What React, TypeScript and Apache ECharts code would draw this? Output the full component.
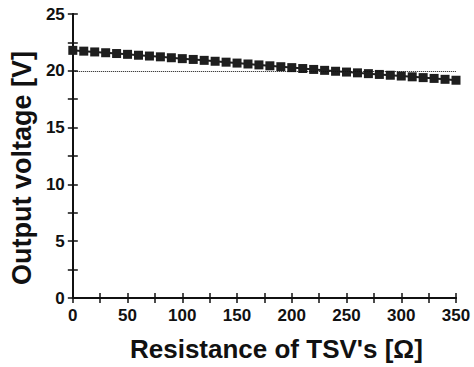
import React, { useEffect, useRef } from "react";
import * as echarts from "echarts";

const resistance = [0, 10, 20, 30, 40, 50, 60, 70, 80, 90, 100, 110, 120, 130, 140, 150, 160, 170, 180, 190, 200, 210, 220, 230, 240, 250, 260, 270, 280, 290, 300, 310, 320, 330, 340, 350];
const voltage = [21.8, 21.73, 21.66, 21.59, 21.52, 21.45, 21.37, 21.3, 21.23, 21.15, 21.07, 21.0, 20.92, 20.84, 20.76, 20.68, 20.6, 20.52, 20.44, 20.36, 20.28, 20.2, 20.12, 20.04, 19.96, 19.89, 19.82, 19.75, 19.68, 19.61, 19.54, 19.47, 19.4, 19.33, 19.25, 19.17];
const refVoltage = 20;

const FONT = "'Liberation Sans', Arial, sans-serif";

export default function App() {
  const ref = useRef<HTMLDivElement>(null);
  useEffect(() => {
    if (!ref.current) return;
    const chart = echarts.init(ref.current, null, { renderer: "svg" });
    const axisLine = { show: true, lineStyle: { color: "#111", width: 2 } };
    const axisTick = { show: true, inside: true, length: 5, lineStyle: { color: "#111", width: 1.5 } };
    chart.setOption({
      animation: false,
      backgroundColor: "#fff",
      grid: { left: 69, right: 18, top: 14, bottom: 63 },
      xAxis: [
        {
          type: "value", min: 0, max: 350, interval: 25, position: "bottom",
          axisLine, axisTick, splitLine: { show: false },
          axisLabel: {
            color: "#111", fontFamily: FONT, fontWeight: "bold", fontSize: 17, margin: 9,
            formatter: (v: number) => (v % 50 === 0 ? String(v) : ""),
          },
          name: "Resistance of TSV's [Ω]", nameLocation: "middle", nameGap: 38,
          nameTextStyle: { color: "#111", fontFamily: FONT, fontWeight: "bold", fontSize: 26, padding: [0, 0, 0, 24] },
        },
        {
          type: "value", min: 0, max: 350, interval: 25, position: "top",
          axisLine, axisTick, splitLine: { show: false }, axisLabel: { show: false },
        },
      ],
      yAxis: [
        {
          type: "value", min: 0, max: 25, interval: 2.5, position: "left",
          axisLine, axisTick, splitLine: { show: false },
          axisLabel: {
            color: "#111", fontFamily: FONT, fontWeight: "bold", fontSize: 17, margin: 8,
            formatter: (v: number) => (v % 5 === 0 ? String(v) : ""),
          },
          name: "Output voltage [V]", nameLocation: "middle", nameGap: 30,
          nameTextStyle: { color: "#111", fontFamily: FONT, fontWeight: "bold", fontSize: 27, padding: [0, 24, 0, 0] },
        },
        {
          type: "value", min: 0, max: 25, interval: 2.5, position: "right",
          axisLine, axisTick, splitLine: { show: false }, axisLabel: { show: false },
        },
      ],
      series: [
        {
          type: "line",
          data: resistance.map((r, i) => [r, voltage[i]]),
          symbol: "rect",
          symbolSize: 9,
          itemStyle: { color: "#1e1e1e" },
          lineStyle: { color: "#1e1e1e", width: 2 },
          markLine: {
            silent: true,
            symbol: "none",
            label: { show: false },
            lineStyle: { color: "#111", type: "dotted", width: 1 },
            data: [{ yAxis: refVoltage }],
          },
          z: 3,
        },
      ],
    });
    return () => chart.dispose();
  }, []);
  return <div ref={ref} style={{ width: 474, height: 367, position: "absolute", left: 0, top: 0 }} />;
}
